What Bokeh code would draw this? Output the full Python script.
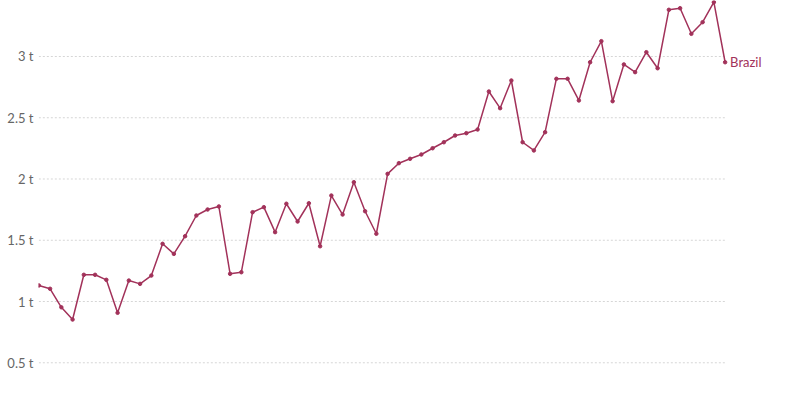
from bokeh.plotting import figure
from bokeh.models import Range1d, FixedTicker, CustomJSTickFormatter
from bokeh.core.properties import value
from bokeh.embed import file_html
from bokeh.resources import INLINE

years = list(range(1961, 2023))
yield_t = [1.131, 1.104, 0.953, 0.853, 1.218, 1.218, 1.177, 0.908, 1.171, 1.144,
           1.212, 1.471, 1.389, 1.533, 1.702, 1.751, 1.776, 1.226, 1.239, 1.729,
           1.770, 1.566, 1.798, 1.653, 1.802, 1.451, 1.865, 1.710, 1.974, 1.737,
           1.553, 2.042, 2.129, 2.165, 2.200, 2.251, 2.300, 2.355, 2.374, 2.404,
           2.714, 2.578, 2.804, 2.300, 2.233, 2.382, 2.818, 2.818, 2.641, 2.953,
           3.125, 2.635, 2.935, 2.872, 3.035, 2.904, 3.381, 3.394, 3.185, 3.280,
           3.443, 2.953]
y_ticks = [0.5, 1, 1.5, 2, 2.5, 3]
series_name = "Brazil"

COLOR = "#a2325a"
FONT = "Lato"

p = figure(width=800, height=400, output_backend="svg", toolbar_location=None,
           x_range=Range1d(1960.97, 2028.7), y_range=Range1d(0.192, 3.457),
           min_border_left=38, min_border_right=0, min_border_top=0, min_border_bottom=0)
p.outline_line_color = None
p.xaxis.visible = False
p.xgrid.visible = False
p.ygrid.visible = False

ax = p.yaxis[0]
ax.ticker = FixedTicker(ticks=y_ticks)
ax.formatter = CustomJSTickFormatter(code="return tick + ' t';")
ax.axis_line_color = None
ax.major_tick_line_color = None
ax.minor_tick_line_color = None
ax.major_tick_out = 0
ax.major_tick_in = 0
ax.minor_tick_out = 0
ax.minor_tick_in = 0
ax.major_label_text_font = FONT
ax.major_label_text_font_size = "13px"
ax.major_label_text_color = "#666666"
ax.major_label_standoff = 5

p.segment(x0=[years[0]] * len(y_ticks), x1=[years[-1]] * len(y_ticks),
          y0=y_ticks, y1=y_ticks, line_color="#d6d6d6", line_width=1, line_dash="2 2")

p.line(years, yield_t, line_color=COLOR, line_width=1.5)
p.scatter(years, yield_t, size=3.5, fill_color=COLOR, line_color=COLOR)

p.text(x=[years[-1]], y=[yield_t[-1]], text=[series_name], x_offset=5,
       text_font=value(FONT), text_font_size="13px", text_color=COLOR,
       text_baseline="middle", text_align="left")

open("out.html", "w").write(file_html(p, INLINE))
